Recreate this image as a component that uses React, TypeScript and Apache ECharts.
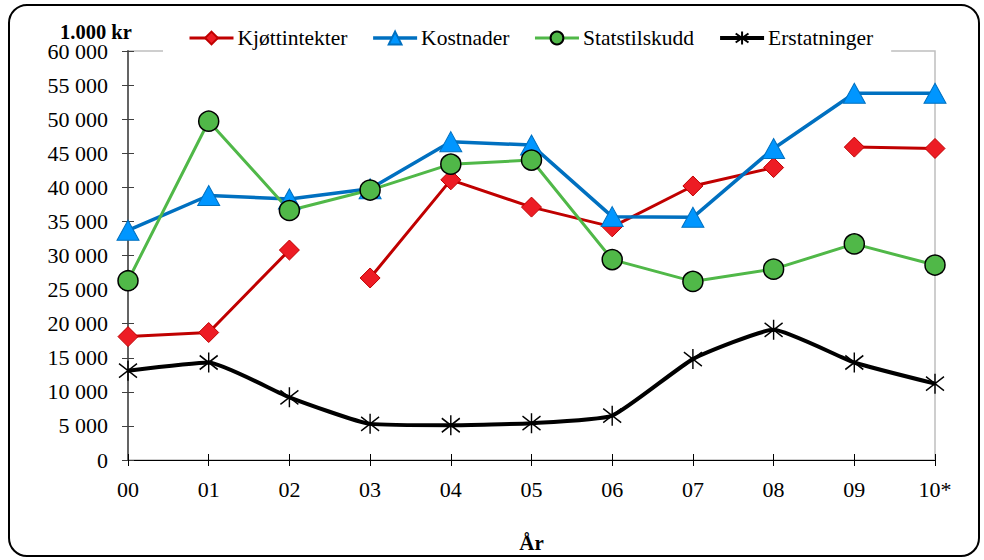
import React, { useEffect, useRef } from "react";
import * as echarts from "echarts";

const categories = ["00", "01", "02", "03", "04", "05", "06", "07", "08", "09", "10*"];
const kjottintekter = [18100, 18700, 30800, 26700, 41100, 37100, 34200, 40200, 42900, 45900, 45700];
const kjottBreaks = [3, 9]; // line is broken before these indices
const kostnader = [33700, 38800, 38300, 39800, 46700, 46200, 35700, 35600, 45700, 53800, 53800];
const statstilskudd = [26300, 49700, 36600, 39600, 43400, 44000, 29400, 26200, 28000, 31700, 28600];
const erstatninger = [13100, 14300, 9200, 5300, 5100, 5400, 6500, 14800, 19100, 14300, 11200];
const legendNames = ["Kjøttintekter", "Kostnader", "Statstilskudd", "Erstatninger"];
const yTicks = { min: 0, max: 60000, interval: 5000 };

const FONT = "'Liberation Serif', 'Times New Roman', serif";
const ASTERISK = "path://M10 0 L10 20 M1 3 L19 17 M1 17 L19 3";
const LINE_WIDTHS = [3, 3.5, 3, 4];

function fmt(v: number): string {
  return String(v).replace(/\B(?=(\d{3})+(?!\d))/g, " ");
}

function segments(values: number[], breaks: number[]): (number | null)[][] {
  const cuts = [0, ...breaks, values.length];
  const out: (number | null)[][] = [];
  for (let s = 0; s < cuts.length - 1; s++) {
    out.push(values.map((v, i) => (i >= cuts[s] && i < cuts[s + 1] ? v : null)));
  }
  return out;
}

export default function App() {
  const ref = useRef<HTMLDivElement>(null);
  useEffect(() => {
    if (!ref.current) return;
    const chart = echarts.init(ref.current, undefined, { renderer: "svg" });
    const kjottStyle = {
      type: "line" as const,
      name: legendNames[0],
      symbol: "diamond",
      symbolSize: 20,
      connectNulls: false,
      lineStyle: { color: "#c00000", width: LINE_WIDTHS[0] },
      itemStyle: { color: "#ed1c24", borderColor: "#c00000", borderWidth: 1 },
    };
    const kjottSeries = segments(kjottintekter, kjottBreaks).map((d) => ({ ...kjottStyle, data: d }));
    chart.setOption({
      animation: false,
      textStyle: { fontFamily: FONT, color: "#000" },
      graphic: [
        {
          type: "rect",
          shape: { x: 9, y: 5, width: 970, height: 551, r: 18 },
          style: { fill: "none", stroke: "#000", lineWidth: 2 },
          z: 100,
        },
      ],
      title: {
        text: "1.000 kr",
        left: 60,
        top: 24,
        padding: 0,
        textStyle: { fontFamily: FONT, fontSize: 20.5, fontWeight: "bold", color: "#000", lineHeight: 15 },
      },
      legend: {
        data: legendNames.map((n, i) => ({ name: n, lineStyle: { width: LINE_WIDTHS[i] } })),
        left: 163,
        top: 22,
        padding: [5, 18, 6, 25],
        backgroundColor: "#fff",
        itemWidth: 44,
        itemHeight: 16,
        itemGap: 24,
        textStyle: { fontFamily: FONT, fontSize: 21.5, color: "#000", padding: [0, 0, 0, -1] },
      },
      grid: {
        left: 128,
        right: 49,
        top: 51,
        bottom: 100,
        show: true,
        borderColor: "#bfbfbf",
        borderWidth: 1.5,
      },
      xAxis: [
        {
          type: "category",
          data: categories,
          boundaryGap: false,
          axisLine: { lineStyle: { color: "#000", width: 1.2 } },
          axisTick: { show: true, length: 6, lineStyle: { color: "#000" } },
          axisLabel: { fontFamily: FONT, fontSize: 22, color: "#000", margin: 18 },
          name: "År",
          nameLocation: "middle",
          nameGap: 72,
          nameTextStyle: { fontFamily: FONT, fontSize: 21, fontWeight: "bold", color: "#000" },
        },
        {
          type: "category",
          data: categories,
          boundaryGap: false,
          position: "bottom",
          offset: 0,
          axisLine: { show: false },
          axisTick: { show: true, inside: true, length: 6, lineStyle: { color: "#000" } },
          axisLabel: { show: false },
        },
      ],
      yAxis: [
        {
          type: "value",
          ...yTicks,
          axisLine: { show: true, lineStyle: { color: "#595959", width: 1.8 } },
          axisTick: { show: true, length: 6, lineStyle: { color: "#404040" } },
          splitLine: { show: false },
          axisLabel: { fontFamily: FONT, fontSize: 22, color: "#000", margin: 20, lineHeight: 15, formatter: fmt },
        },
        {
          type: "value",
          ...yTicks,
          position: "left",
          offset: 0,
          axisLine: { show: false },
          axisTick: { show: true, inside: true, length: 6, lineStyle: { color: "#404040" } },
          splitLine: { show: false },
          axisLabel: { show: false },
        },
      ],
      series: [
        ...kjottSeries,
        {
          type: "line",
          name: legendNames[1],
          data: kostnader,
          symbol: "triangle",
          symbolSize: [22, 20],
          lineStyle: { color: "#0070c0", width: LINE_WIDTHS[1] },
          itemStyle: { color: "#0096ff", borderColor: "#0070c0", borderWidth: 1 },
        },
        {
          type: "line",
          name: legendNames[2],
          data: statstilskudd,
          symbol: "circle",
          symbolSize: 20,
          lineStyle: { color: "#50b848", width: LINE_WIDTHS[2] },
          itemStyle: { color: "#50b848", borderColor: "#000", borderWidth: 1.5 },
        },
        {
          type: "line",
          name: legendNames[3],
          data: erstatninger,
          symbol: ASTERISK,
          symbolSize: [18, 20],
          smooth: 0.15,
          lineStyle: { color: "#000", width: LINE_WIDTHS[3] },
          itemStyle: { color: "none", borderColor: "#000", borderWidth: 1.5 },
        },
      ],
    });
    return () => chart.dispose();
  }, []);
  return (
    <div
      ref={ref}
      style={{ position: "absolute", left: 0, top: 0, width: 984, height: 560, background: "#fff" }}
    />
  );
}
